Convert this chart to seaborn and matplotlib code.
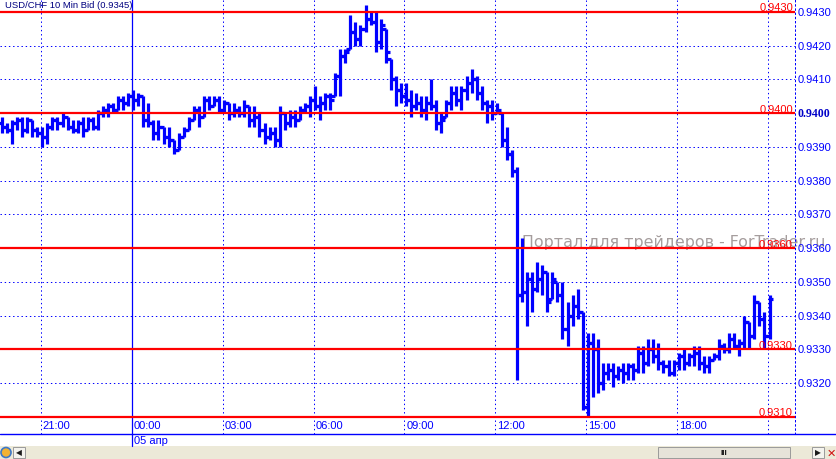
"""
USD/CHF 10 Min Bid chart (05 apr), redrawn as an OHLC bar chart.

Bars are kept in pips above 0.9300 and drawn as high-low lines with an
open tick on the left and a close tick on the right, like the terminal.
"""

import matplotlib
matplotlib.use("Agg")
import numpy as np
import matplotlib.pyplot as plt
import matplotlib.transforms as mtransforms
from matplotlib.lines import Line2D
from matplotlib.patches import Rectangle, Circle
import seaborn as sns

# Constants
BASE_PRICE = 0.9300
PIP = 0.0001
FIRST_BAR_HOUR = -4 - 20 / 60      # first bar is 19:40 on 04 apr
BAR_HOURS = 10 / 60
BLUE = "#0000ff"
RED = "#ff0000"

# Chart data, in pips above 0.9300 (one bar per 10 minutes)
OPEN_PIPS = [
    97, 96, 95, 97, 98, 95, 98, 95, 94, 93,
    96, 98, 97, 99, 96, 95, 97, 95, 98, 96,
    100, 101, 102, 101, 104, 103, 105, 104, 105, 98,
    97, 94, 96, 93, 92, 89, 93, 95, 98, 101,
    99, 104, 102, 104, 101, 103, 100, 101, 100, 102,
    98, 99, 95, 93, 94, 92, 100, 97, 99, 98,
    101, 102, 104, 102, 103, 105, 105, 111, 117, 119,
    124, 122, 125, 128, 127, 121, 125, 116, 110, 107,
    105, 104, 102, 103, 101, 103, 102, 97, 99, 103,
    106, 104, 107, 109, 110, 106, 103, 102, 100, 100,
    92, 88, 83, 46, 47, 51, 48, 51, 53, 45,
    50, 46, 36, 40, 43, 41, 13, 32, 30, 20,
    23, 24, 22, 24, 23, 25, 24, 29, 26, 30,
    28, 26, 25, 23, 26, 28, 26, 28, 29, 26,
    25, 27, 28, 31, 30, 33, 31, 32, 38, 34,
    44, 39, 34,
]
HIGH_PIPS = [
    99, 97, 98, 99, 99, 99, 98, 96, 96, 97,
    99, 99, 100, 99, 98, 98, 99, 99, 99, 101,
    102, 103, 103, 105, 105, 106, 107, 106, 105, 103,
    98, 98, 96, 96, 92, 94, 96, 99, 102, 102,
    105, 105, 105, 105, 104, 103, 103, 102, 104, 102,
    102, 100, 97, 96, 96, 102, 100, 101, 101, 102,
    103, 105, 108, 105, 106, 106, 112, 119, 119, 129,
    127, 126, 132, 130, 130, 128, 125, 116, 111, 109,
    109, 107, 106, 105, 105, 110, 104, 100, 104, 108,
    108, 108, 111, 113, 111, 108, 104, 104, 103, 100,
    96, 89, 84, 63, 53, 53, 56, 55, 53, 53,
    50, 50, 44, 46, 48, 41, 35, 35, 33, 26,
    26, 26, 25, 26, 26, 26, 31, 31, 33, 33,
    32, 27, 27, 27, 29, 30, 29, 31, 31, 28,
    28, 29, 33, 32, 35, 35, 33, 40, 38, 46,
    44, 41, 46,
]
LOW_PIPS = [
    94, 94, 91, 95, 93, 94, 93, 93, 90, 91,
    95, 95, 96, 95, 94, 94, 93, 95, 95, 95,
    99, 99, 100, 101, 101, 102, 101, 102, 96, 96,
    92, 92, 91, 90, 88, 89, 93, 95, 98, 96,
    99, 101, 102, 100, 100, 98, 99, 99, 99, 96,
    96, 93, 91, 92, 90, 90, 95, 96, 96, 98,
    100, 99, 101, 98, 101, 101, 105, 105, 115, 119,
    120, 120, 124, 126, 118, 119, 115, 107, 102, 103,
    102, 99, 101, 99, 98, 101, 95, 94, 99, 101,
    102, 101, 104, 106, 104, 101, 97, 98, 100, 90,
    86, 81, 21, 44, 37, 41, 47, 46, 41, 45,
    44, 33, 31, 37, 39, 12, 10, 16, 17, 18,
    21, 19, 21, 20, 21, 21, 23, 23, 25, 26,
    24, 23, 22, 22, 24, 24, 25, 25, 24, 23,
    23, 27, 27, 29, 29, 30, 28, 30, 30, 33,
    37, 30, 33,
]
CLOSE_PIPS = [
    96, 95, 97, 98, 95, 98, 95, 94, 93, 96,
    98, 97, 99, 96, 95, 97, 95, 98, 96, 100,
    101, 102, 101, 104, 103, 105, 104, 105, 98, 97,
    94, 96, 93, 92, 89, 93, 95, 98, 101, 99,
    104, 102, 104, 101, 103, 100, 101, 100, 102, 98,
    99, 95, 93, 94, 92, 100, 97, 99, 98, 101,
    102, 104, 102, 103, 105, 104, 111, 117, 118, 124,
    122, 125, 128, 127, 121, 126, 118, 110, 107, 105,
    104, 102, 103, 101, 103, 102, 97, 98, 103, 106,
    104, 107, 109, 110, 106, 103, 102, 100, 101, 92,
    88, 83, 46, 47, 51, 48, 51, 53, 44, 51,
    46, 36, 40, 43, 41, 13, 32, 30, 20, 23,
    24, 22, 24, 23, 25, 24, 29, 26, 30, 28,
    26, 25, 23, 26, 28, 26, 28, 29, 26, 25,
    27, 28, 31, 30, 33, 31, 32, 38, 34, 44,
    39, 34, 45,
]

# Axis labels and marked levels
TIME_TICKS = [-3, 0, 3, 6, 9, 12, 15, 18, 21]
TIME_LABELS = ["21:00", "00:00", "03:00", "06:00", "09:00", "12:00", "15:00", "18:00", ""]
PRICE_TICKS = [0.9310, 0.9320, 0.9330, 0.9340, 0.9350, 0.9360, 0.9370,
               0.9380, 0.9390, 0.9400, 0.9410, 0.9420, 0.9430]
PRICE_LABELS = ["", "0.9320", "0.9330", "0.9340", "0.9350", "0.9360", "0.9370",
                "0.9380", "0.9390", "0.9400", "0.9410", "0.9420", "0.9430"]
CURRENT_PRICE_LABEL = "0.9400"
LEVELS = [0.9430, 0.9400, 0.9360, 0.9330, 0.9310]
LEVEL_LABELS = ["0.9430", "0.9400", "0.9360", "0.9330", "0.9310"]
TITLE = "USD/CHF 10 Min Bid (0.9345)"
DATE_LABEL = "05 апр"
WATERMARK = "Портал для трейдеров - ForTrader.ru"

# Layout in pixels of the 837x460 screenshot
FIG_W, FIG_H = 837, 460
PLOT_RIGHT = 795
AXIS_Y = 435
STRIP_Y = 447
LABEL_SIZE = 8.0


def to_price(pips):
    return BASE_PRICE + np.asarray(pips) * PIP


def draw_bars(ax):
    """High-low bars with open/close ticks."""
    n = len(CLOSE_PIPS)
    x = FIRST_BAR_HOUR + np.arange(n) * BAR_HOURS + 0.05
    tick = 0.13
    hl = ax.vlines(x, to_price(LOW_PIPS), to_price(HIGH_PIPS), colors=BLUE,
                   linewidth=2.3, zorder=3)
    op = ax.hlines(to_price(OPEN_PIPS), x - tick, x, colors=BLUE, linewidth=2.3, zorder=3)
    cl = ax.hlines(to_price(CLOSE_PIPS), x, x + tick, colors=BLUE, linewidth=2.3, zorder=3)
    for coll in (hl, op, cl):
        coll.set_capstyle("butt")


def draw_grid_and_labels(ax):
    dots = (0, (1.4, 2.8))
    for p in PRICE_TICKS:
        ax.axhline(p, color=BLUE, linewidth=0.72, linestyle=dots, zorder=1)
    for h in TIME_TICKS:
        if h == 0:
            ax.axvline(h, color=BLUE, linewidth=0.9, zorder=1)
        else:
            ax.axvline(h, color=BLUE, linewidth=0.72, linestyle=dots, zorder=1)

    # red levels with their labels at the right end
    for lvl, lab in zip(LEVELS, LEVEL_LABELS):
        ax.axhline(lvl, color=RED, linewidth=1.6, zorder=4)
        ax.text(1 - 2 / PLOT_RIGHT, lvl + 0.00005, lab, color=RED, fontsize=LABEL_SIZE,
                ha="right", va="baseline", transform=ax.get_yaxis_transform(), zorder=5)

    # price scale on the right
    for p, lab in zip(PRICE_TICKS, PRICE_LABELS):
        if not lab:
            continue
        if lab == CURRENT_PRICE_LABEL:
            ax.text(1 + 3 / PLOT_RIGHT, p, lab, color="#0000c8", fontsize=8.6,
                    fontweight="bold", family="Liberation Serif", zorder=6,
                    ha="left", va="center", transform=ax.get_yaxis_transform(), clip_on=False)
        else:
            ax.text(1 + 3 / PLOT_RIGHT, p, lab, color=BLUE, fontsize=LABEL_SIZE, zorder=6,
                    ha="left", va="center", transform=ax.get_yaxis_transform(), clip_on=False)

    # time labels inside the plot, next to each grid line
    xform = mtransforms.blended_transform_factory(ax.transData, ax.transAxes)
    for h, lab in zip(TIME_TICKS, TIME_LABELS):
        ax.text(h + 0.07, 8.5 / AXIS_Y, lab, color=BLUE, fontsize=LABEL_SIZE,
                ha="left", va="center", transform=xform, zorder=5)

    ax.text(5 / PLOT_RIGHT, 1 - 6 / AXIS_Y, TITLE, color="#000080", fontsize=6.8,
            ha="left", va="center", transform=ax.transAxes, zorder=5)
    # watermark runs past the plot edge, under the price scale
    ax.text(522 / PLOT_RIGHT, 1 - 243 / AXIS_Y, WATERMARK, color="#a59d9d",
            fontsize=11.4, family="DejaVu Sans", ha="left", va="center",
            transform=ax.transAxes, zorder=2, clip_on=False)


def draw_frame(fig):
    """Axis line under the plot, date label and the grey scrollbar strip."""
    fy = lambda y: 1 - y / FIG_H
    fx = lambda x: x / FIG_W
    px = fig.dpi_scale_trans  # inches; 100 px per inch here
    fig.add_artist(Line2D([0, 1], [fy(AXIS_Y), fy(AXIS_Y)], color=BLUE, linewidth=1.0))
    fig.add_artist(Line2D([fx(131.7), fx(131.7)], [fy(AXIS_Y), fy(STRIP_Y)],
                          color=BLUE, linewidth=0.9))
    fig.text(fx(134), fy(441.5), DATE_LABEL, color=BLUE, fontsize=LABEL_SIZE,
             ha="left", va="center")

    fig.add_artist(Rectangle((0, 0), 1, fy(STRIP_Y), facecolor="#ece9d8",
                             edgecolor="none", transform=fig.transFigure))
    # globe icon and left button
    fig.add_artist(Circle((0.06, (FIG_H - 453.5) / 100), 0.05, facecolor="#f2b233",
                          edgecolor="#3d78c8", linewidth=1.2, transform=px))
    fig.add_artist(Rectangle((0.13, (FIG_H - 459) / 100), 0.12, 0.11, facecolor="#f4f3ee",
                             edgecolor="#9a9a9a", linewidth=0.7, transform=px))
    fig.text(fx(19), fy(453.5), "◀", color="#1a1a1a", fontsize=5.5, ha="center", va="center")
    # scrollbar thumb
    fig.add_artist(Rectangle((6.58, (FIG_H - 459) / 100), 1.32, 0.11, facecolor="#e6e3d9",
                             edgecolor="#9a9a9a", linewidth=0.7, transform=px))
    fig.text(fx(724), fy(453.5), "III", color="#1a1a1a", fontsize=6, fontweight="bold",
             ha="center", va="center")
    # right button and close icon
    fig.add_artist(Rectangle((8.12, (FIG_H - 459) / 100), 0.12, 0.11, facecolor="#f4f3ee",
                             edgecolor="#9a9a9a", linewidth=0.7, transform=px))
    fig.text(fx(818), fy(453.5), "▶", color="#1a1a1a", fontsize=5.5, ha="center", va="center")
    fig.text(fx(831), fy(453.5), "✕", color="#d01010", fontsize=8, fontweight="bold",
             ha="center", va="center", family="DejaVu Sans")


def main() -> None:
    sns.set_theme(style="white")
    plt.rcParams["font.family"] = ["Liberation Sans", "DejaVu Sans"]

    fig = plt.figure(figsize=(FIG_W / 100, FIG_H / 100), dpi=100)
    fig.patch.set_facecolor("white")
    ax = fig.add_axes([0, 1 - AXIS_Y / FIG_H, PLOT_RIGHT / FIG_W, AXIS_Y / FIG_H])
    ax.set_facecolor("white")

    draw_grid_and_labels(ax)
    draw_bars(ax)

    ax.set_xlim(-4.3465, 21.891)
    ax.set_ylim(0.930496, 0.943385)
    ax.set_xticks([])
    ax.set_yticks([])
    for side in ["left", "top", "bottom"]:
        ax.spines[side].set_visible(False)
    ax.spines["right"].set_color(BLUE)
    ax.spines["right"].set_linewidth(0.72)
    ax.spines["right"].set_linestyle((0, (1.4, 2.8)))

    draw_frame(fig)
    fig.savefig("out.png", dpi=100)


if __name__ == "__main__":
    main()
